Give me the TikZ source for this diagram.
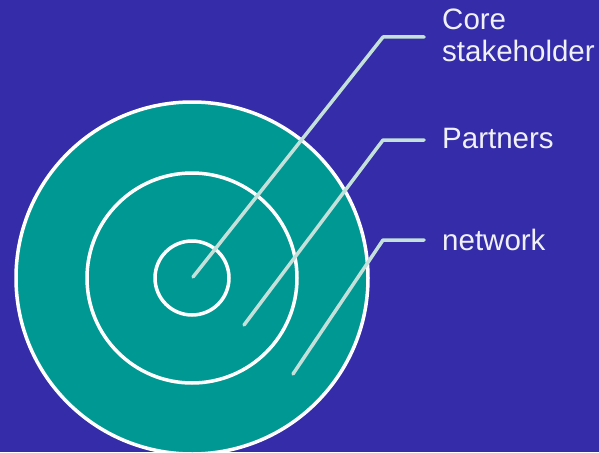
\documentclass[tikz,border=0pt]{standalone}
\usepackage{fontspec}
\setmainfont{Liberation Sans}
\definecolor{bgblue}{RGB}{52,44,168}
\definecolor{teal1}{RGB}{0,152,146}
\definecolor{leader}{RGB}{196,224,218}
\definecolor{txt}{RGB}{240,240,248}
\begin{document}
\begin{tikzpicture}[x=1pt,y=-1pt,
  ring/.style={circle,draw=white,line width=3.5pt,inner sep=0pt},
  lead/.style={draw=leader,line width=3.5pt,line cap=round,line join=round},
  lbl/.style={text=txt,font=\fontsize{29.5}{32}\selectfont,anchor=base west,inner sep=0pt,align=left}]
\useasboundingbox (0,0) rectangle (599,452);
\clip (0,0) rectangle (599,452);
\fill[bgblue] (0,0) rectangle (599,452);
\node[ring,fill=teal1,minimum size=352pt] (outer) at (192,278) {};
\node[ring,minimum size=210pt] (middle) at (192,278) {};
\node[ring,minimum size=74pt] (inner) at (192,278) {};
\coordinate (s1) at (193,277);
\coordinate (s2) at (244,325);
\coordinate (s3) at (293,374);
\coordinate (e1) at (383,37);
\coordinate (e2) at (383,140);
\coordinate (e3) at (383,240);
\coordinate (t1) at (424,37);
\coordinate (t2) at (424,140);
\coordinate (t3) at (424,240);
\draw[lead] (s1) -- (e1) -- (t1);
\draw[lead] (s2) -- (e2) -- (t2);
\draw[lead] (s3) -- (e3) -- (t3);
\node[lbl] (core) at (442,30) {Core};
\node[lbl] (stake) at (442,62) {stakeholder};
\node[lbl] (partners) at (442,148) {Partners};
\node[lbl] (network) at (442,250) {network};
\end{tikzpicture}
\end{document}
